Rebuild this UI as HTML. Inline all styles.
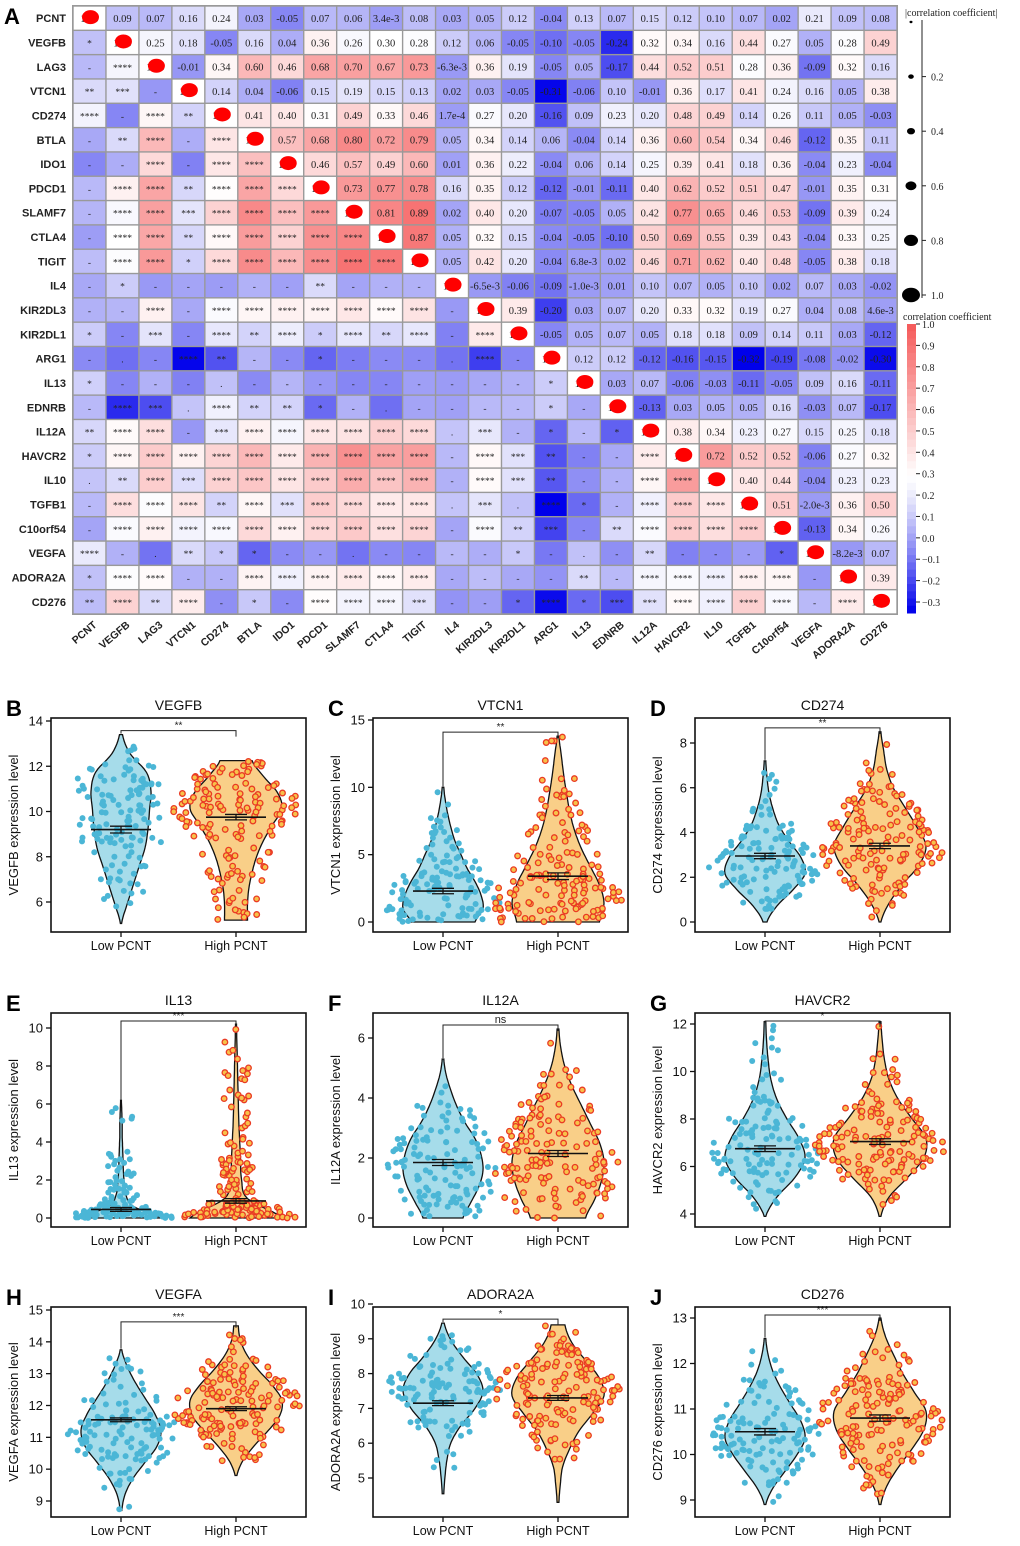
<!DOCTYPE html>
<html><head><meta charset="utf-8">
<style>
html,body{margin:0;padding:0;background:#fff;}
svg{display:block;}
</style></head>
<body>
<svg id="fig" width="1020" height="1546" viewBox="0 0 1020 1546" xmlns="http://www.w3.org/2000/svg">
<g id="heat"></g>
<g id="legend"></g>
<g id="violins"></g>
</svg>
<script>
const genes=["PCNT","VEGFB","LAG3","VTCN1","CD274","BTLA","IDO1","PDCD1","SLAMF7","CTLA4","TIGIT","IL4","KIR2DL3","KIR2DL1","ARG1","IL13","EDNRB","IL12A","HAVCR2","IL10","TGFB1","C10orf54","VEGFA","ADORA2A","CD276"];
const upper=[
["0.09","0.07","0.16","0.24","0.03","-0.05","0.07","0.06","3.4e-3","0.08","0.03","0.05","0.12","-0.04","0.13","0.07","0.15","0.12","0.10","0.07","0.02","0.21","0.09","0.08"],
["0.25","0.18","-0.05","0.16","0.04","0.36","0.26","0.30","0.28","0.12","0.06","-0.05","-0.10","-0.05","-0.24","0.32","0.34","0.16","0.44","0.27","0.05","0.28","0.49"],
["-0.01","0.34","0.60","0.46","0.68","0.70","0.67","0.73","-6.3e-3","0.36","0.19","-0.05","0.05","-0.17","0.44","0.52","0.51","0.28","0.36","-0.09","0.32","0.16"],
["0.14","0.04","-0.06","0.15","0.19","0.15","0.13","0.02","0.03","-0.05","-0.31","-0.06","0.10","-0.01","0.36","0.17","0.41","0.24","0.16","0.05","0.38"],
["0.41","0.40","0.31","0.49","0.33","0.46","1.7e-4","0.27","0.20","-0.16","0.09","0.23","0.20","0.48","0.49","0.14","0.26","0.11","0.05","-0.03"],
["0.57","0.68","0.80","0.72","0.79","0.05","0.34","0.14","0.06","-0.04","0.14","0.36","0.60","0.54","0.34","0.46","-0.12","0.35","0.11"],
["0.46","0.57","0.49","0.60","0.01","0.36","0.22","-0.04","0.06","0.14","0.25","0.39","0.41","0.18","0.36","-0.04","0.23","-0.04"],
["0.73","0.77","0.78","0.16","0.35","0.12","-0.12","-0.01","-0.11","0.40","0.62","0.52","0.51","0.47","-0.01","0.35","0.31"],
["0.81","0.89","0.02","0.40","0.20","-0.07","-0.05","0.05","0.42","0.77","0.65","0.46","0.53","-0.09","0.39","0.24"],
["0.87","0.05","0.32","0.15","-0.04","-0.05","-0.10","0.50","0.69","0.55","0.39","0.43","-0.04","0.33","0.25"],
["0.05","0.42","0.20","-0.04","6.8e-3","0.02","0.46","0.71","0.62","0.40","0.48","-0.05","0.38","0.18"],
["-6.5e-3","-0.06","-0.09","-1.0e-3","0.01","0.10","0.07","0.05","0.10","0.02","0.07","0.03","-0.02"],
["0.39","-0.20","0.03","0.07","0.20","0.33","0.32","0.19","0.27","0.04","0.08","4.6e-3"],
["-0.05","0.05","0.07","0.05","0.18","0.18","0.09","0.14","0.11","0.03","-0.12"],
["0.12","0.12","-0.12","-0.16","-0.15","-0.32","-0.19","-0.08","-0.02","-0.30"],
["0.03","0.07","-0.06","-0.03","-0.11","-0.05","0.09","0.16","-0.11"],
["-0.13","0.03","0.05","0.05","0.16","-0.03","0.07","-0.17"],
["0.38","0.34","0.23","0.27","0.15","0.25","0.18"],
["0.72","0.52","0.52","-0.06","0.27","0.32"],
["0.40","0.44","-0.04","0.23","0.23"],
["0.51","-2.0e-3","0.36","0.50"],
["-0.13","0.34","0.26"],
["-8.2e-3","0.07"],
["0.39"],
[]];
const lower=[
[],["*"],["-","****"],["**","***","-"],["****","-","****","**"],
["-","**","****","-","****"],
["-","-","****","-","****","****"],
["-","****","****","**","****","****","****"],
["-","****","****","***","****","****","****","****"],
["-","****","****","**","****","****","****","****","****"],
["-","****","****","*","****","****","****","****","****","****"],
["-","*","-","-","-","-","-","**","-","-","-"],
["-","-","****","-","****","****","****","****","****","****","****","-"],
["*","-","***","-","****","**","****","*","****","**","****","-","****"],
["-",".","-","****","**","-","-","*","-","-","-",".","****","-"],
["*","-","-","-",".","-","-","-","-","-","-","-","-","-","*"],
["-","****","***",".","****","**","**","*","-",".","-","-","-","-","*","-"],
["**","****","****","-","***","****","****","****","****","****","****",".","***","-","*","-","*"],
["*","****","****","****","****","****","****","****","****","****","****","-","****","***","**","-","-","****"],
[".","**","****","***","****","****","****","****","****","****","****","-","****","***","**","-","-","****","****"],
["-","****","****","****","**","****","***","****","****","****","****",".","***",".","****","*","-","****","****","****"],
["-","****","****","****","****","****","****","****","****","****","****","-","****","**","***","-","**","****","****","****","****"],
["****","-",".","**","*","*","-","-",".","-","-","-","-","*","-",".","-","**","-","-","-","*"],
["*","****","****","-","-","****","****","****","****","****","****","-","-","-","-","**","-","****","****","****","****","****","-"],
["**","****","**","****","-","*","-","****","****","****","***","-","-","*","****","*","***","***","****","****","****","****","-","****"]];
const colorTicks=["1.0","0.9","0.8","0.7","0.6","0.5","0.4","0.3","0.2","0.1","0.0","\u22120.1","\u22120.2","\u22120.3"];
const sizeTicks=["0.2","0.4","0.6","0.8","1.0"];

const NS="http://www.w3.org/2000/svg";
function mk(tag,attrs,parent,txt){const e=document.createElementNS(NS,tag);for(const k in attrs)e.setAttribute(k,attrs[k]);if(txt!==undefined)e.textContent=txt;parent.appendChild(e);return e;}
function corrColor(v){
  if(v<=0.3){let f=Math.min(1,(0.3-v)/0.62);let c=Math.round(255*(1-Math.pow(f,1.3)));return `rgb(${c},${c},${Math.round(255-20*f)})`;}
  let f=Math.min(1,(v-0.3)/0.7);let c=Math.round(255*(1-0.65*f));return `rgb(${Math.round(255-10*f)},${c},${c})`;
}
const GX0=73,GY0=6,CW=824/25,CH=608/25;
function cx(j){return GX0+j*CW;} function cy(i){return GY0+i*CH;}
const heat=document.getElementById('heat');
function val(i,j){if(i===j)return 1;const a=Math.min(i,j),b=Math.max(i,j);return parseFloat(upper[a][b-a-1]);}
mk('rect',{x:GX0-1,y:GY0-1,width:826,height:610,fill:'#999'},heat);
for(let i=0;i<25;i++){
  for(let j=0;j<25;j++){
    const v=val(i,j);
    const r=mk('rect',{x:cx(j)+0.7,y:cy(i)+0.7,width:CW-1.4,height:CH-1.4,fill:i===j?'#fff':corrColor(v)},heat);
    
    
    let txt= i===j?"1.00": (j>i? upper[i][j-i-1] : lower[i][j]);
    const star=j<i;
    const t=mk('text',{x:cx(j)+CW/2,y:cy(i)+CH/2+(star?4:3.8),'text-anchor':'middle','font-family':'Liberation Serif, serif','font-size':star?'9.5':'10.5',fill:'#222'},heat,txt);
    
    
    if(i===j){
      const d=mk('ellipse',{cx:cx(j)+CW/2+1,cy:cy(i)+CH/2-1,rx:8.5,ry:7,fill:'#f00'},heat);
      
      
    }
  }
  const rl=mk('text',{x:66,y:cy(i)+CH/2+4,'text-anchor':'end','font-family':'Liberation Sans, sans-serif','font-size':'11','font-weight':'bold',fill:'#222'},heat,genes[i]);
  
  
  const tx=cx(i)+CW/2+8, ty=626;
  const cl=mk('text',{x:tx,y:ty,'text-anchor':'end','font-family':'Liberation Sans, sans-serif','font-size':'10.5','font-weight':'bold',fill:'#222',transform:`rotate(-40 ${tx} ${ty})`},heat,genes[i]);
  
  
}
mk('text',{x:4,y:24,'font-family':'Liberation Sans, sans-serif','font-size':'22','font-weight':'bold',},heat,'A');

const lg=document.getElementById('legend');
mk('text',{x:905,y:16,'font-family':'Liberation Serif, serif','font-size':'10',fill:'#222',},lg,'|correlation coefficient|');
mk('line',{x1:922,y1:20,x2:922,y2:298,stroke:'#222','stroke-width':1},lg);
const sizeR=[1.5,2.8,4,5.5,7,9];
for(let k=0;k<6;k++){
  const y=22+k*54.6;
  const e=mk('ellipse',{cx:911,cy:y,rx:sizeR[k],ry:sizeR[k]*0.8,fill:'#000'},lg);
  
  
  if(k>0){mk('line',{x1:922,y1:y,x2:926,y2:y,stroke:'#222'},lg);
    const t=mk('text',{x:931,y:y+4,'font-family':'Liberation Serif, serif','font-size':'10',fill:'#222'},lg,sizeTicks[k-1]);
    
    }
}
mk('text',{x:903,y:320,'font-family':'Liberation Serif, serif','font-size':'10',fill:'#222',},lg,'correlation coefficient');
const CB0=324,CB1=613;
for(let k=0;k<40;k++){
  const v=1-(k+0.5)*(1.33/40);
  mk('rect',{x:907,y:CB0+k*(CB1-CB0)/40,width:9,height:(CB1-CB0)/40+0.5,fill:corrColor(v)},lg);
}
for(let k=0;k<colorTicks.length;k++){
  const y=324+k*(602-324)/13;
  mk('line',{x1:916,y1:y,x2:920,y2:y,stroke:'#222'},lg);
  const t=mk('text',{x:922,y:y+4,'font-family':'Liberation Serif, serif','font-size':'10',fill:'#222'},lg,colorTicks[k]);
  
  
}
</script>
<script>
const panelGenes=["VEGFB","VTCN1","CD274","IL13","IL12A","HAVCR2","VEGFA","ADORA2A","CD276"];
const panelLetters=["B","C","D","E","F","G","H","I","J"];
const panelSig=["**","**","**","***","ns","*","***","*","***"];
const panelTicks=[[6,8,10,12,14],[0,5,10,15],[0,2,4,6,8],[0,2,4,6,8,10],[0,2,4,6],[4,6,8,10,12],[9,10,11,12,13,14,15],[5,6,7,8,9,10],[9,10,11,12,13]];
const lowMean=[9.2,2.3,2.95,0.45,1.85,6.75,11.55,7.15,10.5];
const highMean=[9.75,3.4,3.4,0.9,2.15,7.05,11.9,7.3,10.8];
const lowSE=[0.15,0.2,0.12,0.1,0.1,0.12,0.06,0.07,0.07];
const highSE=[0.12,0.25,0.12,0.12,0.1,0.12,0.06,0.07,0.07];
const lowRange=[[5.05,13.4],[0,10],[0,7.2],[0,6.2],[0,5.3],[3.9,12.1],[8.7,13.75],[4.55,9.45],[8.9,12.55]];
const highRange=[[5.2,12.25],[0,13.8],[0,8.5],[0,10.2],[0,6.3],[3.9,12.1],[9.8,14.5],[4.3,9.4],[8.9,13]];
const lowProfile=[
[0.02,0.2,0.4,0.6,0.8,0.9,0.95,1,0.85,0.3,0.05],
[0.8,1,0.95,0.8,0.6,0.45,0.3,0.2,0.12,0.06,0.02],
[0.05,0.3,0.7,1,0.9,0.6,0.35,0.2,0.1,0.05,0.02],
[1,0.3,0.12,0.08,0.06,0.05,0.04,0.03,0.03,0.02,0.01],
[0.5,0.7,0.9,1,0.95,0.8,0.55,0.35,0.2,0.08,0.02],
[0.02,0.3,0.75,1,0.85,0.55,0.3,0.15,0.08,0.04,0.02],
[0.02,0.1,0.3,0.6,0.9,1,0.85,0.6,0.35,0.15,0.02],
[0.02,0.05,0.1,0.2,0.45,0.8,1,0.85,0.5,0.2,0.03],
[0.02,0.2,0.5,0.8,1,0.9,0.65,0.4,0.2,0.08,0.02]];
const highProfile=[
[0.25,0.25,0.28,0.35,0.45,0.6,0.8,1,0.9,0.6,0.35],
[0.9,1,0.9,0.7,0.5,0.35,0.25,0.18,0.12,0.07,0.02],
[0.02,0.2,0.5,0.85,1,0.8,0.55,0.3,0.15,0.08,0.02],
[1,0.25,0.12,0.1,0.08,0.06,0.05,0.04,0.03,0.02,0.01],
[0.6,0.8,0.95,1,0.9,0.7,0.5,0.3,0.15,0.06,0.02],
[0.02,0.2,0.6,0.95,1,0.7,0.4,0.2,0.1,0.05,0.02],
[0.02,0.15,0.4,0.7,0.95,1,0.8,0.5,0.25,0.1,0.05],
[0.02,0.05,0.1,0.25,0.45,0.75,1,0.9,0.6,0.3,0.15],
[0.02,0.15,0.4,0.7,0.95,1,0.75,0.5,0.3,0.12,0.02]];

const colX=[51,373,695], rowBox=[[718,932],[1013,1227],[1307,1517]];
const tickPx=[[902,721],[922,720],[922,743],[1218,1028],[1218,1038],[1214,1024],[1501,1310],[1478,1304],[1500,1318]];
const BW=255;
let seed=12345;
function rnd(){seed|=0;seed=seed+0x6D2B79F5|0;let t=Math.imul(seed^seed>>>15,1|seed);t=t+Math.imul(t^t>>>7,61|t)^t;return((t^t>>>14)>>>0)/4294967296;}
const vg=document.getElementById('violins');
function prof(p,f){const x=f*(p.length-1);const i=Math.min(p.length-2,Math.floor(x));const u=x-i;
  const p0=p[Math.max(0,i-1)],p1=p[i],p2=p[i+1],p3=p[Math.min(p.length-1,i+2)];
  const v=0.5*((2*p1)+(-p0+p2)*u+(2*p0-5*p1+4*p2-p3)*u*u+(-p0+3*p1-3*p2+p3)*u*u*u);return Math.max(0.01,v);}
for(let k=0;k<9;k++){
  const x0=colX[k%3], [bt,bb]=rowBox[Math.floor(k/3)];
  const ticks=panelTicks[k], tmin=ticks[0], tmax=ticks[ticks.length-1];
  const [p0,p1]=tickPx[k];
  const Y=v=>p0+(v-tmin)*(p1-p0)/(tmax-tmin);
  const g=mk('g',{},vg);  
  const groups=[{c:x0+70,m:lowMean[k],se:lowSE[k],r:lowRange[k],p:lowProfile[k],hw:40,fill:'#a6dcea',n:130,low:true},
                {c:x0+185,m:highMean[k],se:highSE[k],r:highRange[k],p:highProfile[k],hw:46,fill:'#f9cf88',n:150,low:false}];
  if(k===0) groups[0].hw=30;
  for(const G of groups){
    const N=60;let L=[],R=[];
    for(let s=0;s<=N;s++){const f=s/N;const v=G.r[0]+f*(G.r[1]-G.r[0]);const w=prof(G.p,f)*G.hw;L.push([G.c-w,Y(v)]);R.push([G.c+w,Y(v)]);}
    let d='M'+L.map(q=>q[0].toFixed(1)+','+q[1].toFixed(1)).join(' L')+' L'+R.reverse().map(q=>q[0].toFixed(1)+','+q[1].toFixed(1)).join(' L')+' Z';
    const vp=mk('path',{d:d,fill:G.fill,stroke:'#111','stroke-width':1.3},g);
    
    
    let pmax=Math.max(...G.p);
    for(let n=0;n<G.n;n++){
      let f,w,tries=0;
      do{f=rnd();w=prof(G.p,f);tries++;}while(rnd()*pmax>w&&tries<50);
      const v=G.r[0]+f*(G.r[1]-G.r[0]);
      const spread=w*G.hw*1.15+11;
      const px=G.c+(rnd()*2-1)*spread;
      const c=mk('circle',{cx:px.toFixed(1),cy:Y(v).toFixed(1),r:G.low?3:2.8,fill:G.low?'#4bb6d6':'#f7c24a',stroke:G.low?'none':'#ea3b24','stroke-width':G.low?0:1.3},g);
      
      
    }
  }
  for(const G of groups){
    const ym=Y(G.m),ya=Y(G.m+G.se),yb=Y(G.m-G.se);
    mk('line',{x1:G.c-30,y1:ym,x2:G.c+30,y2:ym,stroke:'#111','stroke-width':1.6,},g);
    mk('line',{x1:G.c,y1:ya,x2:G.c,y2:yb,stroke:'#111','stroke-width':1.3},g);
    mk('line',{x1:G.c-11,y1:ya,x2:G.c+11,y2:ya,stroke:'#111','stroke-width':1.3},g);
    mk('line',{x1:G.c-11,y1:yb,x2:G.c+11,y2:yb,stroke:'#111','stroke-width':1.3},g);
  }
  const topV=Math.max(groups[0].r[1],groups[1].r[1]);
  const by=Math.max(bt+8,Y(topV)-4);
  mk('path',{d:`M${groups[0].c},${Y(groups[0].r[1])-1} L${groups[0].c},${by} L${groups[1].c},${by} L${groups[1].c},${by+6}`,fill:'none',stroke:'#222','stroke-width':1,},g);
  mk('text',{x:(groups[0].c+groups[1].c)/2,y:by-2,'text-anchor':'middle','font-family':'Liberation Sans, sans-serif','font-size':panelSig[k]==='ns'?'11':'10',fill:'#222',},g,panelSig[k]);
  mk('rect',{x:x0,y:bt,width:BW,height:bb-bt,fill:'none',stroke:'#111','stroke-width':1.6,},g);
  for(const t of ticks){
    const y=Y(t);
    mk('line',{x1:x0-5,y1:y,x2:x0,y2:y,stroke:'#111','stroke-width':1.3},g);
    const tl=mk('text',{x:x0-8,y:y+4.5,'text-anchor':'end','font-family':'Liberation Sans, sans-serif','font-size':'13',fill:'#111'},g,String(t));
    
    
  }
  for(const G of groups){
    mk('line',{x1:G.c,y1:bb,x2:G.c,y2:bb+5,stroke:'#111','stroke-width':1.3},g);
    const xl=mk('text',{x:G.c,y:bb+18,'text-anchor':'middle','font-family':'Liberation Sans, sans-serif','font-size':'12.5',fill:'#111'},g,G.low?'Low PCNT':'High PCNT');
    
    
  }
  const yc=(bt+bb)/2, ax=x0-33;
  mk('text',{x:ax,y:yc,'text-anchor':'middle','font-family':'Liberation Sans, sans-serif','font-size':'13',fill:'#111',transform:`rotate(-90 ${ax} ${yc})`,},g,panelGenes[k]+' expression level');
  mk('text',{x:x0+BW/2,y:bt-8,'text-anchor':'middle','font-family':'Liberation Sans, sans-serif','font-size':'14',fill:'#111',},g,panelGenes[k]);
  mk('text',{x:x0-45,y:bt-2,'font-family':'Liberation Sans, sans-serif','font-size':'22','font-weight':'bold',fill:'#000',},g,panelLetters[k]);
}
</script>
</body></html>
